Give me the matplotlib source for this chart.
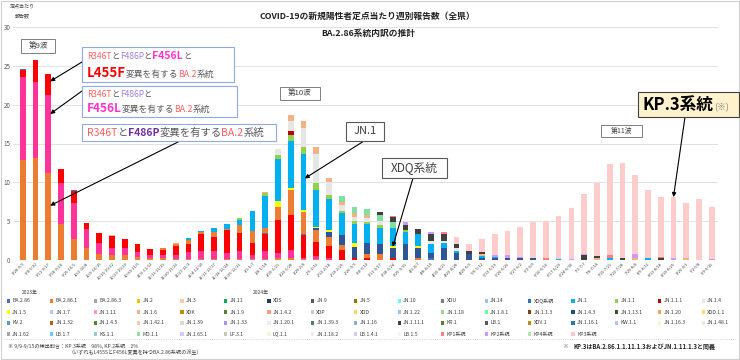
import matplotlib
matplotlib.use('Agg')
import matplotlib.pyplot as plt
from matplotlib.patches import Rectangle
from matplotlib.lines import Line2D
import numpy as np

plt.rcParams['font.family'] = ['Noto Sans CJK JP', 'DejaVu Sans']

W, H = 740, 360

# 週ラベル (2023/8/28 - 2024/9/15)
weeks = ['8/28-9/3', '9/4-9/10', '9/11-9/17', '9/18-9/24', '9/25-10/1', '10/2-10/8',
         '10/9-10/15', '10/16-10/22', '10/23-10/29', '10/30-11/5', '11/6-11/12',
         '11/13-11/19', '11/20-11/26', '11/27-12/3', '12/4-12/10', '12/11-12/17',
         '12/18-12/24', '12/25-12/31', '1/1-1/7', '1/8-1/14', '1/15-1/21', '1/22-1/28',
         '1/29-2/4', '2/5-2/11', '2/12-2/18', '2/19-2/25', '2/26-3/3', '3/4-3/10',
         '3/11-3/17', '3/18-3/24', '3/25-3/31', '4/1-4/7', '4/8-4/14', '4/15-4/21',
         '4/22-4/28', '4/29-5/5', '5/6-5/12', '5/13-5/19', '5/20-5/26', '5/27-6/2',
         '6/3-6/9', '6/10-6/16', '6/17-6/23', '6/24-6/30', '7/1-7/7', '7/8-7/14',
         '7/15-7/21', '7/22-7/28', '7/29-8/4', '8/5-8/11', '8/12-8/18', '8/19-8/25',
         '8/26-9/1', '9/2-9/8', '9/9-9/15']

Z10 = [0] * 10

# 系統別 定点当たり報告数 (下から積み上げ)
xbb_f486p = [12.9, 13.1, 11.2, 4.6, 2.65, 1.55, 0.8, 0.6, 0.6, 0.4,
             0.25, 0.2, 0.15, 0.15, 0.1, 0.1, 0.1, 0.1, 0.1, 0.1,
             0.2, 0.2, 0.1, 0.1, 0, 0, 0, 0, 0, 0] + Z10 + Z10 + [0] * 5
xbb_f456l = [10.6, 9.8, 10.0, 5.3, 4.65, 2.45, 1.4, 1.0, 0.9, 0.6,
             0.45, 0.4, 0.45, 0.85, 1.0, 1.1, 0.8, 1.1, 0.6, 1.0,
             0.7, 1.1, 0.2, 0.4, 0.3, 0, 0, 0, 0, 0] + Z10 + Z10 + [0] * 5
xbb_l455f = [1.0, 2.8, 2.7, 1.85, 1.6, 0.8, 1.3, 1.5, 1.2, 1.0,
             0.7, 0.7, 1.15, 1.1, 2.2, 1.7, 2.9, 2.3, 1.5, 2.2,
             4.2, 4.5, 2.9, 1.8, 1.5, 1.3, 0.3, 0.3, 0, 0.3] + Z10 + Z10 + [0] * 5
ba286 = [0.1, 0, 0.1, 0, 0.15, 0, 0, 0, 0, 0,
         0, 0, 0, 0, 0.05, 0, 0, 0, 0, 0.2,
         0, 0, 0.2, 0, 0, 0, 0, 0, 0, 0,
         0, 0, 0.3, 0, 0, 0, 0, 0, 0, 0] + Z10 + [0] * 5
ba2861 = [0] * 10 + [
         0.05, 0.2, 0.3, 0.5, 0.2, 0.7, 0.2, 1.0, 1.5, 0.6,
         1.7, 3.2, 2.8, 1.6, 1.1, 0.6, 0, 0.5, 0.8, 0,
         0, 0.3, 0, 0, 0, 0, 0, 0, 0, 0] + Z10 + [0] * 5
xdq = [0] * 20 + [
       0, 0, 0, 0.2, 0.7, 1.3, 1.4, 1.4, 1.3, 1.2,
       2.1, 1.2, 0.6, 1.5, 0.9, 0.8, 0.3, 0.2, 0.3, 0.3,
       0.3, 0, 0, 0, 0, 0, 0, 0, 0, 0] + [0] * 5
jn15 = [0] * 20 + [
        0.8, 0.3, 0.3, 0.2, 0.2, 0, 0.5, 0, 0, 0.3,
        0, 0.3, 0, 0, 0, 0, 0, 0, 0, 0] + Z10 + [0] * 5
jn1 = [0] * 10 + [
       0, 0, 0, 0.2, 0.2, 0.5, 0.6, 0.7, 2.6, 4.2,
       5.4, 6.0, 7.2, 4.7, 4.0, 2.8, 2.4, 2.4, 2.0, 2.3,
       1.5, 1.5, 1.2, 0.7, 0.3, 0, 0.2, 0.2, 0, 0,
       0, 0, 0.1, 0, 0, 0, 0.2, 0, 0, 0.3] + [0] * 5
jn11 = [0] * 10 + [
        0, 0, 0, 0, 0, 0, 0, 0.2, 0, 0.3,
        0.5, 0.8, 0.8, 0.9, 0.6, 0.3, 0.4, 0.3, 0.4, 0,
        0.3, 0, 0, 0, 0, 0, 0, 0, 0, 0] + Z10 + [0] * 5
jn111 = [0] * 21 + [0.5] + [0] * 33
jn14 = [0] * 20 + [
        0.8, 1.3, 2.5, 3.8, 1.6, 0.8, 0.6, 0.5, 0.5, 0,
        0, 0, 0.4, 0.2, 0.3, 0, 0, 0, 0, 0] + Z10 + [0] * 5
jn16 = [0, 0, 0, 0, 0, 0, 0, 0.1, 0, 0.05,
        0, 0.05, 0.1, 0.05, 0, 0.05, 0, 0.05, 0, 0.2,
        0.05, 0.8, 0.9, 0.8, 0.6, 0.4, 0.4, 0.4, 0, 0,
        0, 0.05, 0, 0, 0, 0, 0.3, 0, 0, 0,
        0, 0, 0, 0, 0, 0.2, 0, 0, 0.3, 0,
        0, 0, 0.2, 0, 0]
jn181 = [0] * 25 + [0.8, 0.8, 0.8, 0.8, 0.8] + [0] * 25
jn1111 = [0] * 20 + [
          0, 0, 0, 0, 0, 0, 0, 0, 0.4, 0.6,
          0.6, 0.7, 0.9, 1.0, 0.6, 0.4, 0.2, 0, 0, 0,
          0, 0, 0, 0, 0.6, 0.3, 0, 0.3, 0, 0,
          0.2, 0, 0, 0, 0]
kp1 = [0] * 20 + [
       0, 0, 0, 0, 0, 0, 0, 0, 0, 0.2,
       0, 0, 0, 0.15, 0, 0, 0, 0, 0, 0,
       0, 0.3, 0, 0, 0, 0, 0.5, 0, 0, 0,
       0.2, 0, 0.1, 0, 0]
kp2 = [0] * 30 + [
       0.4, 0, 0.15, 0, 0, 0, 0, 0.2, 0.4, 0.1,
       0, 0, 0, 0.1, 0.2, 0, 0, 0, 0.5, 0,
       0, 0.2, 0, 0, 0.1]
kp3 = [0] * 30 + [
       0, 0, 0, 0, 0.9, 0.9, 1.75, 2.8, 3.05, 3.8,
       4.6, 4.7, 5.55, 6.65, 7.75, 9.45, 11.65, 12.15, 10.2, 8.7,
       7.7, 7.9, 7.05, 7.8, 6.75]

stack = [
    (xbb_f486p, '#EC7C30'),
    (xbb_f456l, '#FF3399'),
    (xbb_l455f, '#FF0000'),
    (ba286, '#4472C4'),
    (ba2861, '#ED7D31'),
    (xdq, '#2F5597'),
    (jn15, '#FFFF00'),
    (jn1, '#00B0F0'),
    (jn11, '#92D050'),
    (jn111, '#C00000'),
    (jn14, '#E7E6E6'),
    (jn16, '#F4B183'),
    (jn181, '#7FE0A0'),
    (jn1111, '#404040'),
    (kp1, '#FF7C80'),
    (kp2, '#CC99FF'),
    (kp3, '#FFCCCC'),
]

# 凡例
legend_names = ['BA.2.86', 'BA.2.86.1', 'BA.2.86.3', 'JN.2', 'JN.3', 'JN.11', 'XDS', 'JN.9', 'JN.5',
                'JN.10', 'XDU', 'JN.14', 'XDQ系統', 'JN.1', 'JN.1.1', 'JN.1.1.1', 'JN.1.4',
                'JN.1.5', 'JN.1.7', 'JN.1.11', 'JN.1.6', 'XDK', 'JN.1.9', 'JN.1.4.2', 'XDP', 'XDD',
                'JN.1.22', 'JN.1.18', 'JN.1.8.1', 'JN.1.1.3', 'JN.1.4.3', 'JN.1.13.1', 'JN.1.20', 'XDD.1.1',
                'KV.2', 'JN.1.32', 'JN.1.4.5', 'JN.1.42.1', 'JN.1.39', 'JN.1.33', 'JN.1.20.1', 'JN.1.39.3',
                'JN.1.16', 'JN.1.11.1', 'KR.1', 'LB.1', 'XDV.1', 'JN.1.16.1', 'KW.1.1', 'JN.1.16.3', 'JN.1.48.1',
                'JN.1.62', 'LB.1.7', 'KS.1.1', 'MD.1.1', 'JN.1.65.1', 'LF.3.1', 'LQ.1.1', 'JN.1.18.2',
                'LB.1.4.1', 'LB.1.5', 'KP1系統', 'KP2系統', 'KP4系統', 'KP3系統']
legend_colors = ['#4472C4', '#ED7D31', '#A5A5A5', '#FFC000', '#F8CBAD', '#00B050', '#203864', '#595959', '#997300',
                 '#66FFFF', '#7F7F7F', '#9DC3E6', '#2E75B6', '#00B0F0', '#92D050', '#C00000', '#E7E6E6',
                 '#FFFF00', '#B4C7E7', '#FF99CC', '#F4B183', '#BF9000', '#548235', '#F4A07A', '#C9C9C9', '#FFD966',
                 '#9DC3E6', '#A9D18E', '#66FF99', '#843C0C', '#1F4E79', '#375623', '#F4A460', '#FFD966',
                 '#5B9BD5', '#C55A11', '#548235', '#F8CBAD', '#D9D9D9', '#9999FF', '#EDEDED', '#4E8068',
                 '#8EA9DB', '#404040', '#548235', '#595959', '#BF9000', '#2E75B6', '#B4C7E7', '#FFF2CC', '#E2F0D9',
                 '#A5A5A5', '#66CCFF', '#8FCFCF', '#99DDAA', '#CCCCFF', '#C9C9B9', '#EEF7E0', '#EDEDED',
                 '#D0D0F0', '#F2F7E8', '#FF7C80', '#CC99FF', '#B3E6B3', '#FFC7CE']


def fx(x):
    return x / W


def fy(y):
    return 1 - y / H


fig = plt.figure(figsize=(7.4, 3.6), dpi=100)
fig.patch.set_facecolor('white')
ax = fig.add_axes([fx(13), fy(260), (718 - 13) / W, (260 - 27) / H])

x = np.arange(len(weeks))
bottom = np.zeros(len(weeks))
for vals, color in stack:
    v = np.array(vals, dtype=float)
    ax.bar(x, v, width=0.45, bottom=bottom, color=color, linewidth=0, zorder=2)
    bottom += v

ax.set_xlim(-0.76, 54.49)
ax.set_ylim(0, 30)
ax.set_yticks(range(0, 31, 5))
ax.yaxis.grid(True, color='#DDDDDD', lw=0.6, zorder=0)
ax.set_axisbelow(True)
for s in ax.spines.values():
    s.set_visible(False)
ax.tick_params(axis='y', length=0, labelsize=4.5, labelcolor='#595959', pad=2)
ax.tick_params(axis='x', length=0, pad=1)
ax.set_xticks(x)
ax.set_xticklabels(weeks, rotation=45, ha='right', va='top', rotation_mode='anchor',
                   fontsize=2.9, color='#404040')

# タイトル
fig.text(fx(367), fy(16), 'COVID-19の新規陽性者定点当たり週別報告数（全県）',
         ha='center', va='center', fontsize=6.3, fontweight='bold', color='#222222')
fig.text(fx(368), fy(33), 'BA.2.86系統内訳の推計',
         ha='center', va='center', fontsize=6.3, fontweight='bold', color='#222222')
fig.text(fx(22), fy(11), '定点当たり\n報告数', ha='center', va='center',
         fontsize=3.6, color='#404040', linespacing=2.0)
fig.text(fx(22), fy(292), '2023年', ha='left', va='center', fontsize=3.6, color='#404040')
fig.text(fx(253), fy(292), '2024年', ha='left', va='center', fontsize=3.6, color='#404040')

renderer = fig.canvas.get_renderer()


def box(x0, y0, x1, y1, ec, fc='white', lw=0.8):
    fig.add_artist(Rectangle((fx(x0), fy(y1)), (x1 - x0) / W, (y1 - y0) / H,
                             transform=fig.transFigure, fc=fc, ec=ec, lw=lw, zorder=3))


def rich(x0, y0, parts):
    xc = x0
    for s, c, size, w in parts:
        t = fig.text(fx(xc), fy(y0), s, color=c, fontsize=size, fontweight=w,
                     ha='left', va='baseline', zorder=4)
        xc += t.get_window_extent(renderer=renderer).width


def arrow(xy, x_px, y_px):
    ax.annotate('', xy=xy, xycoords='data', xytext=(fx(x_px), fy(y_px)),
                textcoords='figure fraction', annotation_clip=False, zorder=5,
                arrowprops=dict(arrowstyle='-|>', color='black', lw=0.8,
                                mutation_scale=6, shrinkA=0, shrinkB=0))


GRAY = '#595959'
SALMON = '#FF6060'
LILAC = '#A080E0'
MAGENTA = '#FF33CC'

# 波のラベル
box(21, 39, 55, 53, '#7F7F7F', lw=0.7)
fig.text(fx(38), fy(46), '第9波', ha='center', va='center', fontsize=5.5, color='#404040', zorder=4)
box(280, 87, 320, 100, '#7F7F7F', lw=0.7)
fig.text(fx(300), fy(93.5), '第10波', ha='center', va='center', fontsize=5.5, color='#404040', zorder=4)
box(601, 125, 642, 137, '#7F7F7F', lw=0.7)
fig.text(fx(621.5), fy(131), '第11波', ha='center', va='center', fontsize=5, color='#404040', zorder=4)

# XBB系統の説明ボックス
box(82, 47, 234, 82, '#8FAADC')
rich(87, 59, [('R346T', SALMON, 6, 'normal'), ('と', GRAY, 6, 'normal'),
              ('F486P', LILAC, 6, 'normal'), ('と', GRAY, 6, 'normal'),
              ('F456L', MAGENTA, 7.5, 'bold'), ('と', GRAY, 6, 'normal')])
rich(87, 77, [('L455F', '#FF0000', 9.5, 'bold'), ('変異を有する', GRAY, 6.3, 'normal'),
              ('BA.2', SALMON, 6.3, 'normal'), ('系統', GRAY, 6.3, 'normal')])

box(82, 86, 237, 117, '#8FAADC')
rich(87, 97, [('R346T', SALMON, 6, 'normal'), ('と', GRAY, 6, 'normal'),
              ('F486P', LILAC, 6, 'normal'), ('と', GRAY, 6, 'normal')])
rich(87, 112, [('F456L', MAGENTA, 8.5, 'bold'), ('変異を有する', GRAY, 6.3, 'normal'),
               ('BA.2', SALMON, 6.3, 'normal'), ('系統', GRAY, 6.3, 'normal')])

box(82, 124, 276, 141, '#8FAADC')
rich(87, 136, [('R346T', SALMON, 7.5, 'normal'), ('と', GRAY, 7.5, 'normal'),
               ('F486P', '#7030A0', 7.5, 'bold'), ('変異を有する', GRAY, 7.5, 'normal'),
               ('BA.2', SALMON, 7.5, 'normal'), ('系統', GRAY, 7.5, 'normal')])

arrow((2.15, 23.0), 82, 62)
arrow((2.15, 18.8), 82, 91)
arrow((2.15, 7.0), 180, 141)

# 系統ラベル
box(346, 122, 384, 141, '#595959')
fig.text(fx(365), fy(131.5), 'JN.1', ha='center', va='center', fontsize=8, color='#404040', zorder=4)
arrow((22.1, 10.5), 364, 141)

box(382, 158, 447, 178, '#595959')
fig.text(fx(414.5), fy(168), 'XDQ系統', ha='center', va='center', fontsize=8.5, color='#404040', zorder=4)
arrow((29.0, 1.7), 413, 178)

box(638, 92, 739, 117, '#404040', fc='#FFF2CC')
rich(643, 110, [('KP.3系統', 'black', 12, 'bold'), ('(※)', '#7F7F7F', 6.5, 'normal')])
arrow((51.0, 8.1), 685, 117)

# 凡例
for i, (name, color) in enumerate(zip(legend_names, legend_colors)):
    row, col = divmod(i, 17)
    lx = 8.3 + 43.44 * col
    ly = 301 + 11 * row
    fig.add_artist(Rectangle((fx(lx - 1.6), fy(ly + 1.6)), 3.2 / W, 3.2 / H, transform=fig.transFigure,
                             fc=color, ec='none', zorder=3))
    fig.text(fx(lx + 4), fy(ly), name, ha='left', va='center', fontsize=3.7, color='#404040')

fig.add_artist(Line2D([fx(4), fx(737)], [fy(339), fy(339)], transform=fig.transFigure,
                      color='#C8C8C8', lw=0.6, ls=':'))

# 注記
fig.text(fx(8), fy(346), '※ 9/9-9/15の検出割合：KP.3系統　98%, KP.2系統　2%',
         ha='left', va='center', fontsize=3.7, color='#404040')
fig.text(fx(68), fy(352.5), '（いずれもL455SとF456L変異を持つBA.2.86系統の派生）',
         ha='left', va='center', fontsize=3.7, color='#404040')
fig.text(fx(562), fy(346), '※', ha='left', va='center', fontsize=4.2, color='#7F7F7F')
fig.text(fx(573), fy(346), 'KP.3はBA.2.86.1.1.11.1.3およびJN.1.11.1.3と同義',
         ha='left', va='center', fontsize=4.3, fontweight='bold', color='#222222')

fig.add_artist(Rectangle((0.001, 0.002), 0.997, 0.995, transform=fig.transFigure,
                         fc='none', ec='#D0D0D0', lw=0.8))

fig.savefig('out.png', dpi=100, facecolor='white')
